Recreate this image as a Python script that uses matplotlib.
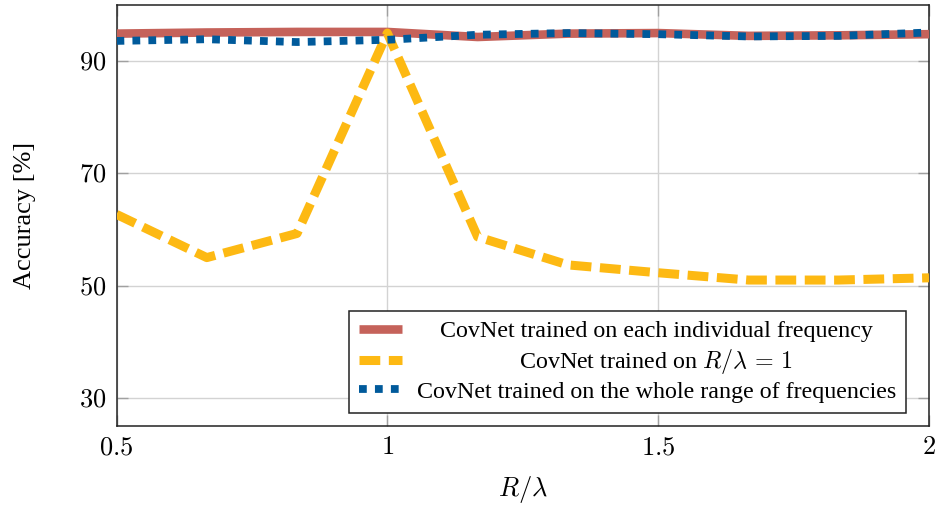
import matplotlib
matplotlib.use('Agg')
import matplotlib.pyplot as plt

# R/lambda values and accuracies
r_lambda = [0.5, 0.6667, 0.8333, 1.0, 1.1667, 1.3333, 1.5, 1.6667, 1.8333, 2.0]
acc_individual = [94.9, 95.1, 95.2, 95.2, 94.3, 94.9, 95.0, 94.5, 94.6, 94.8]
acc_single = [62.7, 55.0, 59.3, 95.0, 58.7, 53.7, 52.3, 51.0, 51.0, 51.4]
acc_whole = [93.6, 93.9, 93.4, 93.8, 94.7, 95.0, 94.8, 94.4, 94.5, 95.1]

labels = ['CovNet trained on each individual frequency',
          r'CovNet trained on $R/\lambda\,=\,1$',
          'CovNet trained on the whole range of frequencies']
xticks = [0.5, 1, 1.5, 2]
yticks = [30, 50, 70, 90]

plt.rcParams['font.family'] = ['Liberation Serif', 'DejaVu Serif']
plt.rcParams['mathtext.fontset'] = 'cm'
plt.rcParams['font.size'] = 19

fig = plt.figure(figsize=(9.38, 5.07), dpi=100)
ax = fig.add_axes([116.5 / 938, 1 - 426 / 507, (929 - 116.5) / 938, (426 - 5) / 507])

ax.plot(r_lambda, acc_individual, color='#C5625A', lw=6.2, solid_capstyle='butt',
        label=labels[0], zorder=3)
ax.plot(r_lambda, acc_single, color='#FDB913', lw=6.5, dashes=(2.3, 0.95),
        dash_capstyle='butt', label=labels[1], zorder=4)
ax.plot(r_lambda, acc_whole, color='#005A9B', lw=5.6, dashes=(1.0, 1.05),
        dash_capstyle='butt', label=labels[2], zorder=5)

ax.set_xlim(0.5, 2)
ax.set_ylim(25, 100)
ax.set_xticks(xticks)
ax.set_yticks(yticks)
ax.set_xticklabels(['$%g$' % v for v in xticks])
ax.set_yticklabels(['$%g$' % v for v in yticks])
ax.grid(True, color='#d3d3d3', lw=1.0, zorder=0)
ax.tick_params(direction='in', length=8, width=1, color='#a0a0a0',
               top=True, right=True, labelsize=19)
ax.tick_params(axis='x', pad=8)
ax.tick_params(axis='y', pad=7)
for s in ax.spines.values():
    s.set_color('#222222')
    s.set_linewidth(1.1)

ax.set_xlabel(r'$R/\lambda$', fontsize=19, labelpad=11)
ax.set_ylabel('Accuracy [%]', fontsize=19, labelpad=31)

leg = ax.legend(loc='lower right', bbox_to_anchor=(0.9717, 0.031), borderaxespad=0,
                fancybox=False, framealpha=1, edgecolor='#222222', fontsize=17.3,
                handlelength=1.8, handletextpad=0.6, labelspacing=0.2,
                borderpad=0.42)
leg.get_frame().set_linewidth(1.1)
leg.set_zorder(10)

# center the legend texts like pgfplots does
fig.canvas.draw()
renderer = fig.canvas.get_renderer()
texts = leg.get_texts()
widths = [t.get_window_extent(renderer).width for t in texts]
for t, w in zip(texts, widths):
    t.set_x((max(widths) - w) / 2)

fig.savefig('out.png', dpi=100)
